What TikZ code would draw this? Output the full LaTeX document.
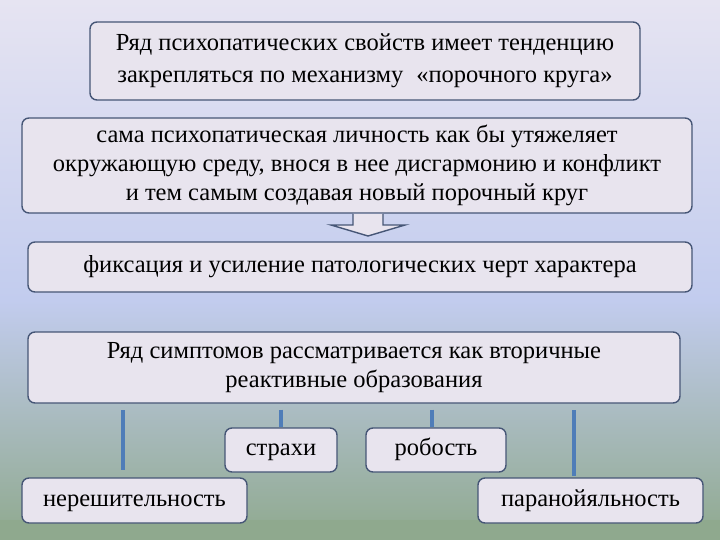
\documentclass[tikz,border=0pt]{standalone}
\usepackage{fontspec}
\setmainfont{Liberation Serif}
\definecolor{bgtop}{HTML}{E6E4F2}
\definecolor{bgmid}{HTML}{C2CCEE}
\definecolor{bgbot}{HTML}{8FA98E}
\definecolor{boxfill}{HTML}{E8E4EE}
\definecolor{boxline}{HTML}{465676}
\definecolor{linkblue}{HTML}{4F7DB8}
\newcommand{\bxstrut}{\vrule width 0pt height 17pt depth 6pt}
\tikzset{
  bx/.style={draw=boxline, line width=1.4pt, fill=boxfill, rounded corners=7pt, align=center, inner sep=0pt, font=\fontsize{24.5}{29}\selectfont, execute at begin node=\bxstrut, execute at end node=\bxstrut},
  lnk/.style={draw=linkblue, line width=4pt}
}
\begin{document}
\begin{tikzpicture}[x=1pt,y=-1pt]
\shade[top color=bgtop, bottom color=bgmid] (0,0) rectangle (720,300);
\shade[top color=bgmid, bottom color=bgbot] (0,300) rectangle (720,540);
\fill[bgbot] (0,520) rectangle (720,540);
\useasboundingbox (0,0) rectangle (720,540);
\node[bx, minimum width=550pt, minimum height=78pt] (b1) at (365,61) {Ряд психопатических свойств имеет тенденцию\\[3pt]закрепляться по механизму \;«порочного круга»};
\node[bx, minimum width=670pt, minimum height=95pt] (b2) at (357,165.5) {сама психопатическая личность как бы утяжеляет\\окружающую среду, внося в нее дисгармонию и конфликт\\и тем самым создавая новый порочный круг};
\node[bx, minimum width=664pt, minimum height=50pt] (b3) at (360,267) {фиксация и усиление патологических черт характера};
\node[bx, minimum width=652pt, minimum height=71pt] (b4) at (354,367.5) {Ряд симптомов рассматривается как вторичные\\реактивные образования};
\node[bx, minimum width=112pt, minimum height=44pt] (s1) at (281,450) {страхи};
\node[bx, minimum width=140pt, minimum height=44pt] (s2) at (436,450) {робость};
\node[bx, minimum width=225pt, minimum height=45pt] (s3) at (134.5,500.5) {нерешительность};
\node[bx, minimum width=225pt, minimum height=45pt] (s4) at (590.5,500.5) {паранойяльность};
\draw[draw=boxline, line width=1.4pt, fill=boxfill] (353,214) -- (353,225) -- (331,225) -- (368,236) -- (405,225) -- (383,225) -- (383,214);
\coordinate (c1) at (123,410); \coordinate (c1e) at (123,470);
\coordinate (c4) at (574,410); \coordinate (c4e) at (574,476);
\draw[lnk] (c1) -- (c1e);
\draw[lnk] (c4) -- (c4e);
\draw[lnk] (b4.south -| s1.north) ++(0,6) -- (s1.north);
\draw[lnk] (b4.south -| s2.north) ++(-4,6) -- ([xshift=-4pt]s2.north);
\end{tikzpicture}
\end{document}
